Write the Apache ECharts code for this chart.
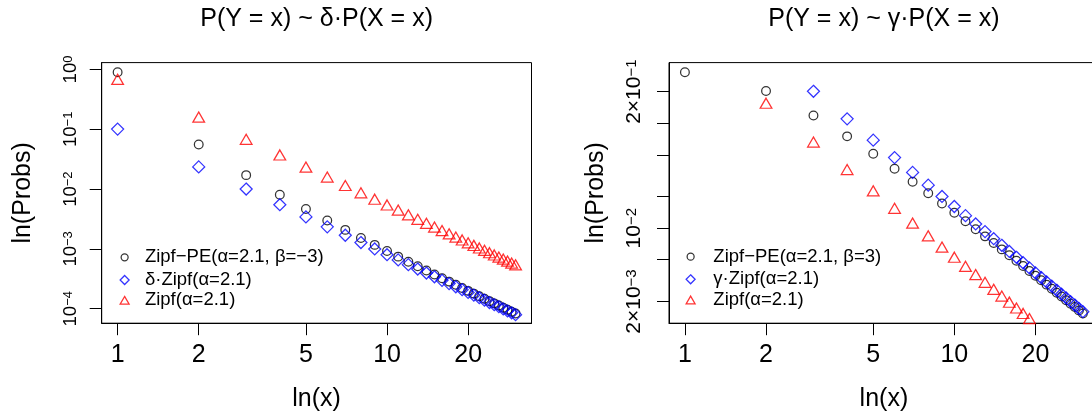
<!DOCTYPE html>
<html>
<head>
<meta charset="utf-8">
<script src="https://cdn.jsdelivr.net/npm/echarts@6.0.0/dist/echarts.min.js"></script>
<style>
  html, body { margin: 0; padding: 0; background: #ffffff; }
  #chart { width: 1092px; height: 419px; }
</style>
</head>
<body>
<div id="chart"></div>
<script>
// Ranks x = 1..30
const ranks = [1, 2, 3, 4, 5, 6, 7, 8, 9, 10, 11, 12, 13, 14, 15, 16, 17, 18, 19, 20,
               21, 22, 23, 24, 25, 26, 27, 28, 29, 30];

// Zipf(alpha = 2.1) probabilities
const zipfProbs = [0.641, 0.1495, 0.0638, 0.03488, 0.02183, 0.01489, 0.01077, 0.008135, 0.006352, 0.005092,
                   0.004168, 0.003472, 0.002935, 0.002512, 0.002173, 0.001898, 0.001671, 0.001482, 0.001323, 0.001188,
                   0.001072, 0.000972, 0.000885, 0.00081, 0.000743, 0.000685, 0.000632, 0.000586, 0.000544, 0.000507];

// Left panel: Zipf-PE(alpha = 2.1, beta = -3) and delta * Zipf(alpha = 2.1)
const zipfPENeg = [0.8985, 0.05561, 0.01712, 0.008062, 0.004633, 0.00299, 0.002081, 0.001528, 0.001168, 0.00092,
                   0.000743, 0.000612, 0.000512, 0.000435, 0.000373, 0.000324, 0.000284, 0.000251, 0.000223, 0.000199,
                   0.000179, 0.000162, 0.000147, 0.000134, 0.000123, 0.000113, 0.000104, 0.0000963, 0.0000893, 0.0000831];
const deltaZipf = [0.1007, 0.0235, 0.01003, 0.005483, 0.003431, 0.002341, 0.001693, 0.001279, 0.000999, 0.0008,
                   0.000655, 0.000546, 0.000461, 0.000395, 0.000342, 0.000298, 0.000263, 0.000233, 0.000208, 0.000187,
                   0.000169, 0.000153, 0.000139, 0.000127, 0.000117, 0.000108, 0.0000994, 0.0000921, 0.0000855, 0.0000797];

// Right panel: Zipf-PE(alpha = 2.1, beta = 3) and gamma * Zipf(alpha = 2.1)
const zipfPEPos = [0.306, 0.2028, 0.1184, 0.07496, 0.05107, 0.0368, 0.02766, 0.02149, 0.01715, 0.01399,
                   0.01161, 0.009782, 0.008349, 0.007204, 0.006276, 0.005515, 0.004882, 0.00435, 0.0039, 0.003515,
                   0.003183, 0.002895, 0.002644, 0.002425, 0.00223, 0.002059, 0.001905, 0.001769, 0.001645, 0.001535];
const gammaZipf = [2.023, 0.4721, 0.2014, 0.1101, 0.06892, 0.04701, 0.034, 0.02568, 0.02005, 0.01608,
                   0.01316, 0.01096, 0.009266, 0.007931, 0.006861, 0.005992, 0.005276, 0.004679, 0.004177, 0.003751,
                   0.003384, 0.003069, 0.002795, 0.002557, 0.002346, 0.002161, 0.001996, 0.00185, 0.001718, 0.0016];

// Tick marks and labelled ticks
const xTicks = [1, 2, 5, 10, 20];
const leftYTicks = [1, 0.1, 0.01, 0.001, 0.0001];
const rightYTicks = [0.2, 0.1, 0.05, 0.02, 0.01, 0.005, 0.002];
const rightYLabelled = [0.2, 0.01, 0.002];

// Series names
const leftNames = ['Zipf\u2212PE(\u03b1=2.1, \u03b2=\u22123)', '\u03b4\u00b7Zipf(\u03b1=2.1)', 'Zipf(\u03b1=2.1)'];
const rightNames = ['Zipf\u2212PE(\u03b1=2.1, \u03b2=3)', '\u03b3\u00b7Zipf(\u03b1=2.1)', 'Zipf(\u03b1=2.1)'];
const titles = ['P(Y = x) ~ \u03b4\u00b7P(X = x)', 'P(Y = x) ~ \u03b3\u00b7P(X = x)'];

const FONT = '"Liberation Sans", Arial, Helvetica, sans-serif';
const lg = Math.log10;

// Log-log coordinates (plotted on value axes in log10 space)
function points(values) {
  return ranks.map((x, i) => [lg(x), lg(values[i])]);
}
// Axis range padded by 4% on each side (in log space)
function paddedRange(values) {
  const logs = values.map(lg);
  const lo = Math.min.apply(null, logs), hi = Math.max.apply(null, logs);
  const pad = (hi - lo) * 0.04;
  return [lo - pad, hi + pad];
}

const xRange = paddedRange(ranks);
const leftYRange = paddedRange(zipfPENeg);
const rightYRange = paddedRange(zipfPEPos);

const MINUS = '\u2212';
function supLabel(v) {
  const e = Math.floor(v + 1e-9);
  const m = Math.round(Math.pow(10, v - e));
  const exp = (e < 0 ? MINUS + (-e) : String(e));
  return (m === 1 ? '{b|10}' : '{b|' + m + '\u00d710}') + '{s|' + exp + '}';
}

const grids = [
  { left: 101.7, top: 62.6, width: 429.8, height: 260.6 },
  { left: 669, top: 62.6, width: 429.8, height: 260.6 }
];

function makeXAxis(gridIndex) {
  const ticks = xTicks.map(lg);
  return {
    type: 'value', gridIndex: gridIndex, min: xRange[0], max: xRange[1],
    axisLine: { show: true, onZero: false, lineStyle: { color: '#000', width: 1 } },
    axisTick: { show: true, inside: false, length: 12, customValues: ticks, lineStyle: { color: '#000', width: 1 } },
    axisLabel: { customValues: ticks, formatter: v => String(Math.round(Math.pow(10, v))),
                 fontSize: 25, fontFamily: FONT, color: '#000', margin: 19 },
    splitLine: { show: false },
    name: 'ln(x)', nameLocation: 'middle', nameGap: 63,
    nameTextStyle: { fontSize: 25, fontFamily: FONT, color: '#000' }
  };
}

function makeYAxis(gridIndex, range, ticks, labelled, cfg) {
  return {
    type: 'value', gridIndex: gridIndex, min: range[0], max: range[1],
    axisLine: { show: true, onZero: false, lineStyle: { color: '#000', width: 1 } },
    axisTick: { show: true, inside: false, length: 12, customValues: ticks.map(lg), lineStyle: { color: '#000', width: 1 } },
    axisLabel: {
      customValues: labelled.map(lg), formatter: supLabel, rotate: 90, margin: cfg.margin,
      color: '#000', fontFamily: FONT, lineHeight: cfg.line,
      rich: {
        b: { fontSize: cfg.base, lineHeight: cfg.base, fontFamily: FONT, color: '#000', verticalAlign: 'bottom' },
        s: { fontSize: cfg.sup, lineHeight: cfg.sup, fontFamily: FONT, color: '#000', verticalAlign: 'top' }
      }
    },
    splitLine: { show: false },
    name: 'ln(Probs)', nameLocation: 'middle', nameGap: cfg.nameGap,
    nameTextStyle: { fontSize: 25, fontFamily: FONT, color: '#000' }
  };
}

const STROKE = 1.25;
const markers = [
  { symbol: 'circle', size: 8.7, offset: [0, 0], color: '#000000' },
  { symbol: 'diamond', size: 12, offset: [0, 0], color: '#0000ff' },
  { symbol: 'triangle', size: [11.7, 10.1], offset: [0, -1.7], color: '#ff0000' }
];

function makeSeries(name, values, idx, mk) {
  return {
    type: 'scatter', name: name, xAxisIndex: idx, yAxisIndex: idx,
    data: points(values), symbol: mk.symbol, symbolSize: mk.size, symbolOffset: mk.offset,
    clip: true, silent: true,
    itemStyle: { color: 'transparent', borderColor: mk.color, borderWidth: STROKE },
    emphasis: { disabled: true }
  };
}

const series = [
  makeSeries(leftNames[0], zipfPENeg, 0, markers[0]),
  makeSeries(leftNames[1], deltaZipf, 0, markers[1]),
  makeSeries(leftNames[2], zipfProbs, 0, markers[2]),
  makeSeries(rightNames[0], zipfPEPos, 1, markers[0]),
  makeSeries(rightNames[1], gammaZipf, 1, markers[1]),
  makeSeries(rightNames[2], zipfProbs, 1, markers[2])
];

// One legend row per entry so each key symbol keeps its own size
const keyIcons = [
  { icon: 'circle', w: 7, h: 7, color: '#000000' },
  { icon: 'diamond', w: 9, h: 9, color: '#0000ff' },
  { icon: 'triangle', w: 9, h: 7.8, color: '#ff0000' }
];
function legendRows(names, iconX, textX, rowY) {
  return names.map((name, i) => {
    const k = keyIcons[i];
    const textH = 20;
    return {
      left: iconX - k.w / 2, top: rowY[i] - textH / 2, padding: 0,
      itemWidth: k.w, itemHeight: k.h, selectedMode: false,
      data: [{ name: name, icon: k.icon,
               itemStyle: { color: 'transparent', borderColor: k.color, borderWidth: STROKE } }],
      textStyle: { fontSize: 18.5, fontFamily: FONT, color: '#000', lineHeight: textH,
                   padding: [0, 0, 0, textX - (iconX + k.w / 2) - 5] }
    };
  });
}

const option = {
  animation: false,
  backgroundColor: '#ffffff',
  grid: grids.map(g => Object.assign({ show: true, borderColor: '#000', borderWidth: 1,
                                       backgroundColor: 'transparent', outerBoundsMode: 'none',
                                       containLabel: false }, g)),
  xAxis: [makeXAxis(0), makeXAxis(1)],
  yAxis: [
    makeYAxis(0, leftYRange, leftYTicks, leftYTicks, { margin: 21, line: 22, base: 18.5, sup: 13, nameGap: 66 }),
    makeYAxis(1, rightYRange, rightYTicks, rightYLabelled, { margin: 24, line: 25, base: 21, sup: 15, nameGap: 60 })
  ],
  legend: legendRows(leftNames, 124, 144.3, [257.3, 280, 300.3])
    .concat(legendRows(rightNames, 690, 712.7, [256.7, 279.3, 300])),
  graphic: titles.map((t, i) => ({
    type: 'text', x: grids[i].left + grids[i].width / 2, y: 19, silent: true,
    style: { text: t, font: '25px ' + FONT, fill: '#000', textAlign: 'center', textVerticalAlign: 'middle' }
  })),
  series: series
};

const chart = echarts.init(document.getElementById('chart'), null, { renderer: 'canvas' });
chart.setOption(option);
</script>
</body>
</html>
